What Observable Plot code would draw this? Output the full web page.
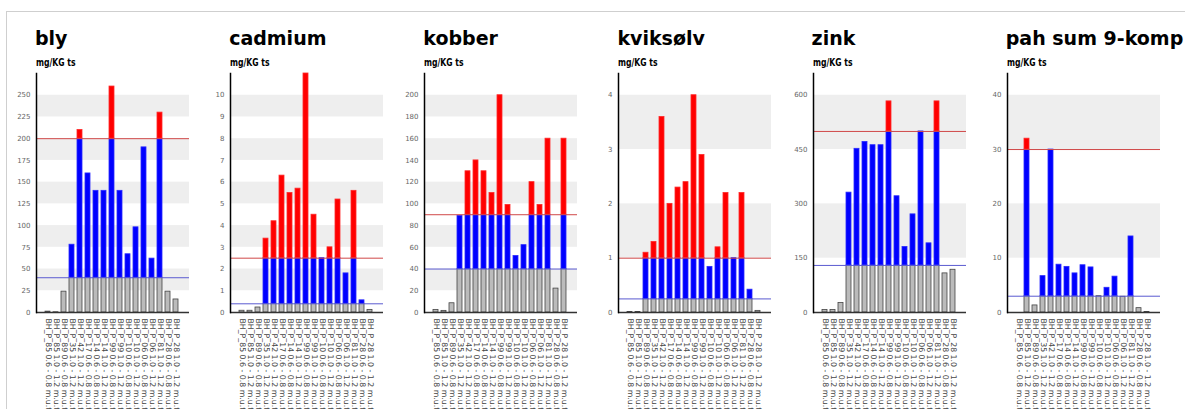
<!DOCTYPE html>
<html><head><meta charset="utf-8">
<script src="https://cdn.jsdelivr.net/npm/d3@7"></script>
<script src="https://cdn.jsdelivr.net/npm/@observablehq/plot@0.6"></script>
<style>
html,body{margin:0;padding:0;background:#fff;overflow:hidden;width:1185px;height:409px}
#frame{position:absolute;left:6px;top:11px;width:1179px;height:398px;border-top:1px solid #cfcfcf;border-left:1px solid #cfcfcf;box-sizing:border-box}
.panel{position:absolute;top:0;width:194px;height:409px}
.panel svg{position:absolute;left:0;top:0;overflow:visible}
.title{position:absolute;top:29px;font-family:"DejaVu Sans",sans-serif;font-weight:bold;font-size:19px;line-height:19px;color:#000;white-space:nowrap;z-index:2}
.unit{position:absolute;top:57px;font-family:"DejaVu Sans",sans-serif;font-weight:bold;font-size:11px;line-height:11px;color:#000;white-space:nowrap;z-index:2;transform:scaleX(0.7);transform-origin:0 0}
</style>
</head><body>
<div id="frame"></div>
<div id="root"></div>
<script>
const categories = [
  "BH_P_85 0.6 - 0.8 m.u.t","BH_P_85 1.0 - 1.2 m.u.t","BH_P_89 0.6 - 0.8 m.u.t","BH_P_35 1.0 - 1.2 m.u.t",
  "BH_P_42 1.0 - 1.2 m.u.t","BH_P_17 0.6 - 0.8 m.u.t","BH_P_14 0.6 - 0.8 m.u.t","BH_P_14 1.0 - 1.2 m.u.t",
  "BH_P_99 0.6 - 0.8 m.u.t","BH_P_99 1.0 - 1.2 m.u.t","BH_P_10 0.6 - 0.8 m.u.t","BH_P_10 1.0 - 1.2 m.u.t",
  "BH_P_06 0.6 - 0.8 m.u.t","BH_P_06 1.0 - 1.2 m.u.t","BH_P_81 1.0 - 1.2 m.u.t","BH_P_28 0.6 - 0.8 m.u.t",
  "BH_P_28 1.0 - 1.2 m.u.t"
];
const unitLabel = "mg/KG ts";

const blyValues      = [1, 0.3, 24, 78, 210, 160, 140, 140, 260, 140, 67, 98, 190, 62, 230, 24, 15];
const cadmiumValues  = [0.08, 0.08, 0.23, 3.4, 4.2, 6.3, 5.5, 5.7, 11, 4.5, 2.5, 3.0, 5.2, 1.8, 5.6, 0.56, 0.12];
const kobberValues   = [2.4, 1.5, 8.5, 89, 130, 140, 130, 110, 200, 99, 52, 62, 120, 99, 160, 22, 160];
const kvikselvValues = [0.01, 0.01, 1.1, 1.3, 3.6, 2.0, 2.3, 2.4, 4.0, 2.9, 0.84, 1.2, 2.2, 1.0, 2.2, 0.42, 0.03];
const zinkValues     = [7, 7, 26, 331, 452, 471, 462, 462, 583, 321, 181, 271, 500, 191, 583, 108, 118];
const pahValues      = [0, 32, 1.3, 6.7, 30, 8.8, 8.4, 7.2, 8.7, 8.3, 3.0, 4.55, 6.6, 2.9, 14, 0.8, 0.1];

const titles     = ["bly", "cadmium", "kobber", "kviksølv", "zink", "pah sum 9-komp"];
const lowLimits  = [40, 0.4, 40, 0.25, 130, 3];
const highLimits = [200, 2.5, 90, 1, 500, 30];
const blyTicks      = [0, 25, 50, 75, 100, 125, 150, 175, 200, 225, 250];
const cadmiumTicks  = [0, 1, 2, 3, 4, 5, 6, 7, 8, 9, 10];
const kobberTicks   = [0, 20, 40, 60, 80, 100, 120, 140, 160, 180, 200];
const kvikselvTicks = [0, 1, 2, 3, 4];
const zinkTicks     = [0, 150, 300, 450, 600];
const pahTicks      = [0, 10, 20, 30, 40];
const yMax = [275, 11, 220, 4.4, 660, 44];

const seriesValues = [blyValues, cadmiumValues, kobberValues, kvikselvValues, zinkValues, pahValues];
const seriesTicks  = [blyTicks, cadmiumTicks, kobberTicks, kvikselvTicks, zinkTicks, pahTicks];

const root = document.getElementById("root");
const axis0 = 36, step = 194.15, mL = 30;

seriesValues.forEach((values, i) => {
  const lo = lowLimits[i], hi = highLimits[i], ticks = seriesTicks[i];
  const rows = categories.map((c, j) => {
    const v = values[j];
    return {c, v, g: Math.min(v, lo), b: Math.max(0, Math.min(v, hi) - lo), r: Math.max(0, v - hi)};
  });
  const bands = [];
  for (let k = 1; k + 1 < ticks.length; k += 2) bands.push({y1: ticks[k], y2: ticks[k + 1]});

  const chart = Plot.plot({
    width: 194, height: 409,
    marginLeft: mL, marginRight: 11, marginTop: 73, marginBottom: 97,
    style: {fontFamily: "DejaVu Sans, sans-serif", background: "transparent", overflow: "visible"},
    x: {domain: categories, padding: 0.4, insetLeft: 4.1, insetRight: 6, axis: null},
    y: {domain: [0, yMax[i]], axis: null},
    marks: [
      Plot.rect(bands, {y1: "y1", y2: "y2", fill: "#eeeeee"}),
      Plot.barY(rows.filter(d => d.v > 0), {x: "c", y1: 0, y2: "g", fill: "#bbbbbb", stroke: "#444", strokeWidth: 0.8}),
      Plot.barY(rows.filter(d => d.b > 0), {x: "c", y1: "g", y2: d => d.g + d.b, fill: "#0000ff", stroke: "#2a2aff", strokeWidth: 0.8}),
      Plot.barY(rows.filter(d => d.r > 0), {x: "c", y1: () => hi, y2: "v", fill: "#ff0000", stroke: "#ff2a2a", strokeWidth: 0.8}),
      Plot.ruleY([lo], {stroke: "#5a5ad0", strokeWidth: 1}),
      Plot.ruleY([hi], {stroke: "#d04848", strokeWidth: 1}),
      Plot.ruleY([0], {stroke: "#333", strokeWidth: 1.5}),
      Plot.frame({anchor: "left", stroke: "#000", strokeWidth: 1.5}),
      Plot.axisY({ticks, tickSize: 0, tickPadding: 6, fontSize: 7, fill: "#666", label: null, tickFormat: d => String(d)}),
      Plot.axisX({tickRotate: 90, tickSize: 0, tickPadding: 6, fontSize: 7.8, fill: "#444", label: null})
    ]
  });

  const panel = document.createElement("div");
  panel.className = "panel";
  const left = axis0 + i * step - mL;
  panel.style.left = left + "px";
  panel.appendChild(chart);
  const t = document.createElement("div");
  t.className = "title";
  t.style.left = (mL - 1) + "px";
  t.textContent = titles[i];
  panel.appendChild(t);
  const u = document.createElement("div");
  u.className = "unit";
  u.style.left = mL + "px";
  u.textContent = unitLabel;
  panel.appendChild(u);
  root.appendChild(panel);
});
</script>
</body></html>
